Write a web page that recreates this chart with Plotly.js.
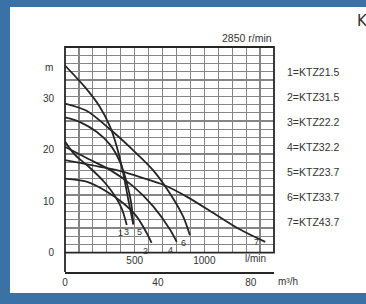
<!DOCTYPE html>
<html><head><meta charset="utf-8">
<script src="https://cdn.plot.ly/plotly-3.0.1.min.js"></script>
<style>
html,body{margin:0;padding:0;background:#3a72a8;width:366px;height:304px;overflow:hidden;}
#chart{position:absolute;left:10px;top:7px;width:356px;height:286px;}
</style></head>
<body><div id="chart"></div>
<script>
// Flow in m3/h, head in m
const curveIds = ['1','2','3','4','5','6','7'];
const models = ['KTZ21.5','KTZ31.5','KTZ22.2','KTZ32.2','KTZ23.7','KTZ33.7','KTZ43.7'];
const q1 = [0, 4.3, 10.0, 17.2, 21.5, 24.4, 26.6];
const h1 = [21.6, 19.0, 16.8, 13.6, 11.0, 8.6, 5.4];
const q2 = [0, 9.3, 17.9, 25.1, 30.9, 35.2, 37.3];
const h2 = [14.4, 13.8, 11.9, 9.6, 7.0, 3.8, 1.9];
const q3 = [0, 6.5, 13.6, 19.4, 23.7, 26.6, 28.6, 29.4];
const h3 = [26.3, 25.4, 23.5, 21.0, 17.6, 13.6, 9.4, 5.5];
const q4 = [0, 9.3, 19.4, 29.4, 38.0, 45.2, 48.1];
const h4 = [20.6, 18.4, 16.1, 12.9, 9.0, 4.5, 2.1];
const q5 = [0, 8.6, 15.1, 19.4, 22.3, 25.1, 27.3, 29.4];
const h5 = [36.4, 32.2, 28.3, 24.5, 20.6, 15.4, 10.2, 5.5];
const q6 = [0, 9.3, 19.4, 29.4, 38.0, 45.2, 50.9, 53.8];
const h6 = [29.0, 27.6, 24.0, 19.9, 16.0, 11.5, 7.0, 3.4];
const q7 = [0, 15.1, 24.4, 33.7, 42.3, 52.4, 63.9, 75.4, 86.2];
const h7 = [18.0, 16.7, 15.8, 14.5, 13.2, 10.9, 7.7, 4.5, 2.1];
const headTicks = [0, 10, 20, 30];
const lpmTicks = [500, 1000];
const m3hTicks = [0, 40, 80];
const speedText = '2850 r/min';

const qs = [q1,q2,q3,q4,q5,q6,q7];
const hs = [h1,h2,h3,h4,h5,h6,h7];
const ink = '#262626';
const traces = qs.map((q,i)=>({x:q, y:hs[i], type:'scatter', mode:'lines', line:{color:ink, width:1.8, shape:'spline', smoothing:0.8}, hoverinfo:'skip', showlegend:false}));
traces.push({x:[], y:[], xaxis:'x2', yaxis:'y', type:'scatter', showlegend:false});
traces.push({x:[], y:[], xaxis:'x', yaxis:'y2', type:'scatter', showlegend:false});
traces.push({x:[], y:[], xaxis:'x3', yaxis:'y', type:'scatter', showlegend:false});

const dom0 = 0.086;
const family = 'Liberation Sans, Arial, sans-serif';
const fnt = {family:family, size:10, color:'#333'};
// label placement per curve end: [xanchor, yanchor, xshift, yshift]
const labelPos = [
  ['right','top',-2,-1], ['right','top',-2,-1], ['right','top',-2,-1], ['right','top',-2,-1],
  ['left','top',2,-1], ['right','top',-2,-1], ['right','middle',-4,0]
];
const annotations = [];
qs.forEach((q,i)=>{
  const p = labelPos[i];
  annotations.push({x:q[q.length-1], y:hs[i][hs[i].length-1], xref:'x', yref:'y', text:curveIds[i], showarrow:false, xanchor:p[0], yanchor:p[1], xshift:p[2], yshift:p[3], font:{family:family, size:9, color:'#333'}});
});
models.forEach((m,i)=>{
  annotations.push({x:1.053, y:0.889 - i*0.111, xref:'paper', yref:'paper', text:curveIds[i]+'='+m, showarrow:false, xanchor:'left', yanchor:'middle', font:{family:family, size:10.5, color:'#333'}});
});
annotations.push({x:1, y:1, xref:'paper', yref:'paper', text:speedText, showarrow:false, xanchor:'right', yanchor:'bottom', yshift:1, font:{family:family, size:10.5, color:'#333'}});
annotations.push({x:0, y:36, xref:'paper', yref:'y', text:'m', showarrow:false, xanchor:'right', xshift:-10, font:fnt});
annotations.push({x:0.971, y:0.058, xref:'paper', yref:'paper', text:'l/min', showarrow:false, xanchor:'right', yanchor:'middle', font:fnt});
annotations.push({x:1.01, y:-0.044, xref:'paper', yref:'paper', text:'m³/h', showarrow:false, xanchor:'left', yanchor:'middle', font:fnt});
annotations.push({x:1.388, y:1.116, xref:'paper', yref:'paper', text:'K', showarrow:false, xanchor:'left', yanchor:'middle', font:{family:'DejaVu Sans, sans-serif', size:15, color:'#333'}});

const gridc = '#858585';
const layout = {
  width:356, height:286,
  margin:{l:55, r:92, t:40, b:21},
  paper_bgcolor:'#ffffff', plot_bgcolor:'rgba(0,0,0,0)',
  showlegend:false,
  xaxis:{range:[0,90], domain:[0,1], anchor:'y', tickmode:'linear', tick0:0, dtick:6, showgrid:true, gridcolor:gridc, gridwidth:1.2, showticklabels:false, ticks:'', zeroline:false, showline:false},
  yaxis:{range:[0,40], domain:[dom0,1], anchor:'x', tickmode:'linear', tick0:0, dtick:1.6, showgrid:true, gridcolor:gridc, gridwidth:1.2, showticklabels:false, ticks:'', zeroline:false, showline:false},
  xaxis2:{range:[0,1500], overlaying:'x', anchor:'y', side:'bottom', tickmode:'array', tickvals:lpmTicks, ticktext:lpmTicks.map(String), showgrid:false, zeroline:false, showline:false, ticks:'', tickfont:fnt},
  yaxis2:{range:[0,40], overlaying:'y', anchor:'x', side:'left', tickmode:'array', tickvals:headTicks, ticktext:headTicks.map(String), showgrid:false, zeroline:false, showline:false, ticks:'outside', ticklen:8, tickcolor:'rgba(0,0,0,0)', tickfont:fnt},
  xaxis3:{range:[0,90], overlaying:'x', anchor:'free', position:0, side:'bottom', tickmode:'array', tickvals:m3hTicks, ticktext:m3hTicks.map(String), showgrid:false, zeroline:false, showline:true, linecolor:ink, linewidth:1.6, ticks:'', tickfont:fnt},
  shapes:[
    {type:'rect', xref:'paper', yref:'paper', x0:0, x1:1, y0:dom0, y1:1, line:{color:ink, width:1.8}},
    {type:'line', xref:'paper', yref:'paper', x0:0, x1:0, y0:0, y1:dom0, line:{color:ink, width:1.8}}
  ],
  annotations:annotations
};
Plotly.newPlot('chart', traces, layout, {staticPlot:true, displayModeBar:false});
</script></body></html>
